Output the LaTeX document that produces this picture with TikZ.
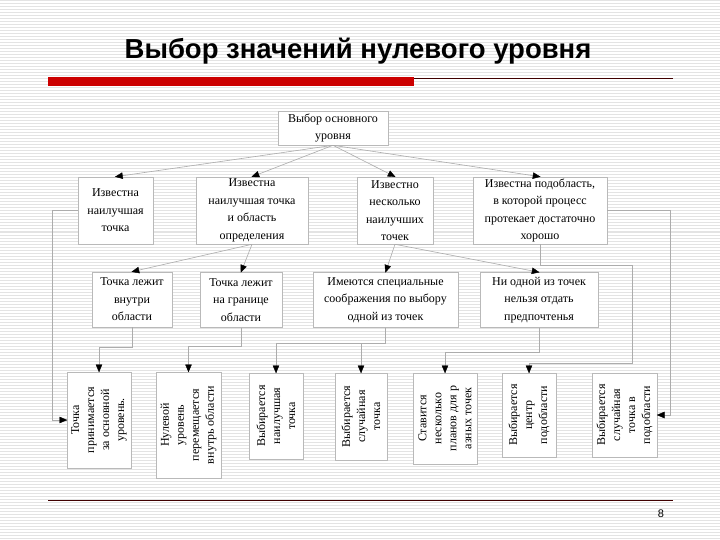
\documentclass[tikz,border=0pt]{standalone}
\usepackage{fontspec}
\setmainfont{Liberation Serif}
\newfontfamily\titlefont{Liberation Sans}
\usetikzlibrary{calc,arrows.meta}
\begin{document}
\begin{tikzpicture}[x=1pt,y=-1pt,
  stripe/.style={draw=gray!22,line width=1pt},
  box/.style={draw=gray!55,fill=white,line width=0.6pt,inner sep=1pt,align=center,
    font=\fontsize{12}{17.5}\selectfont},
  vbox/.style={draw=gray!55,fill=white,line width=0.6pt,inner sep=1pt,align=center,
    rotate=90,font=\fontsize{12}{15}\selectfont},
  conn/.style={draw=gray!65,line width=0.6pt},
  head/.style={fill=black,draw=black,line width=0.4pt}]
\useasboundingbox (0,0) rectangle (720,540);
\fill[white] (0,0) rectangle (720,540);
\foreach \i in {0,...,180} \draw[stripe] (0,{3*\i+1}) -- (720,{3*\i+1});
% title
\node[font=\titlefont\bfseries\fontsize{27.5}{30}\selectfont,inner sep=0pt] (title) at (358,51) {Выбор значений нулевого уровня};
\fill[red!80!black] (48,77) rectangle (414,86);
\draw[line width=0.8pt,black!75!red] (414,78) -- (673,78);
\draw[line width=0.8pt,black!75!red] (48,500) -- (673,500);
\node[font=\titlefont\fontsize{11}{13}\selectfont,inner sep=0pt] (pnum) at (661,514) {8};
% top box
\node[box,minimum width=110pt,minimum height=34pt] (T) at (333,128) {Выбор основного\\уровня};
% row 2
\node[box,minimum width=75pt,minimum height=67pt] (A) at (115.5,210.5) {Известна\\наилучшая\\точка};
\node[box,minimum width=112pt,minimum height=67pt] (B) at (252,210.5) {Известна\\наилучшая точка\\и область\\определения};
\node[box,minimum width=76pt,minimum height=67pt] (C) at (395,210.5) {Известно\\несколько\\наилучших\\точек};
\node[box,minimum width=134pt,minimum height=67pt] (D) at (540,210.5) {Известна подобласть,\\в которой процесс\\протекает достаточно\\хорошо};
% row 3
\node[box,minimum width=80pt,minimum height=55pt] (E) at (132,299.5) {Точка лежит\\внутри\\области};
\node[box,minimum width=82pt,minimum height=55pt] (F) at (241,300) {Точка лежит\\на границе\\области};
\node[box,minimum width=145pt,minimum height=55pt] (G) at (385.5,300) {Имеются специальные\\соображения по выбору\\одной из точек};
\node[box,minimum width=118pt,minimum height=55pt] (H) at (539,300) {Ни одной из точек\\нельзя отдать\\предпочтенья};
% bottom row (rotated 90: east = top, north = left, south = right)
\node[vbox,minimum width=96pt,minimum height=64pt] (b1) at (99,420) {Точка\\принимается\\за основной\\уровень.};
\node[vbox,minimum width=106pt,minimum height=65pt] (b2) at (188.5,425) {Нулевой\\уровень\\перемещается\\внутрь области};
\node[vbox,minimum width=86pt,minimum height=54pt] (b3) at (276,416) {Выбирается\\наилучшая\\точка};
\node[vbox,minimum width=87pt,minimum height=52pt] (b4) at (361,416.5) {Выбирается\\случайная\\точка};
\node[vbox,minimum width=91pt,minimum height=64pt] (b5) at (445,418.5) {Ставится\\несколько\\планов для р\\азных точек};
\node[vbox,minimum width=84pt,minimum height=54pt] (b6) at (529,415) {Выбирается\\центр\\подобласти};
\node[vbox,minimum width=84pt,minimum height=65pt] (b7) at (624.5,415) {Выбирается\\случайная\\точка в\\подобласти};
% connectors
\draw[conn] (T.south) -- (A.north);
\draw[conn] (T.south) -- (B.north);
\draw[conn] (T.south) -- (C.north);
\draw[conn] (T.south) -- (D.north);
\draw[conn] (B.south) -- (E.north);
\draw[conn] (B.south) -- (F.north);
\draw[conn] (C.south) -- (G.north);
\draw[conn] (C.south) -- (H.north);
\draw[conn] (A.west) -| (52,420) -- (b1.north);
\draw[conn] (D.east) -| (670,415) -- (b7.south);
\draw[conn] (D.south) |- (632,265) -- (632,363) -| (b6.east);
\draw[conn] (E.south) -- ++(0,20) -| (b1.east);
\draw[conn] (F.south) -- ++(0,18) -| (b2.east);
\draw[conn] (G.south) -- ++(0,15) -| (b3.east);
\draw[conn] (G.south) -- ++(0,15) -| (b4.east);
\draw[conn] (H.south) -- ++(0,24) -| (b5.east);
% arrowheads
\foreach \tip/\from in {A.north/T.south,B.north/T.south,C.north/T.south,D.north/T.south,
  E.north/B.south,F.north/B.south,G.north/C.south,H.north/C.south}
  \path[head] (\tip) -- ($(\tip)!7pt!(\from)!3pt!90:(\tip)$) -- ($(\tip)!7pt!(\from)!3pt!-90:(\tip)$) -- cycle;
\foreach \tip in {b1.east,b2.east,b3.east,b4.east,b5.east,b6.east}
  \path[head] (\tip) -- ++(-3,-7) -- ++(6,0) -- cycle;
\path[head] (b1.north) -- ++(-7,-3) -- ++(0,6) -- cycle;
\path[head] (b7.south) -- ++(7,-3) -- ++(0,6) -- cycle;
\end{tikzpicture}
\end{document}
